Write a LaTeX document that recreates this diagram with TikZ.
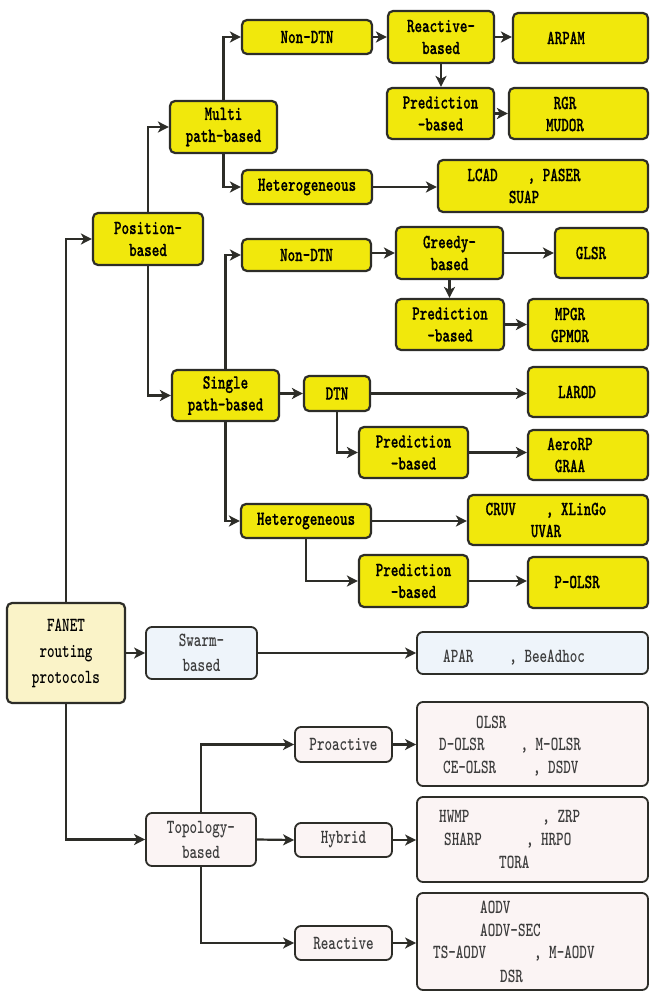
\documentclass[tikz,border=0pt]{standalone}
\usepackage{fontspec}
\newfontfamily\bfont{lmmonolt10-bold.otf}[FakeStretch=0.72,FakeBold=0.6]
\newfontfamily\rfont{lmmonolt10-bold.otf}[FakeStretch=0.72]
\usetikzlibrary{arrows.meta}
\definecolor{ylw}{RGB}{241,232,12}
\definecolor{cream}{RGB}{250,243,200}
\definecolor{ltblue}{RGB}{238,244,250}
\definecolor{ltpink}{RGB}{251,244,244}
\definecolor{edge}{RGB}{45,45,40}
\definecolor{gtext}{RGB}{60,60,60}
\newcommand\bx[7]{\node[#6, minimum width={#4-#2}, minimum height={#5-#3}] (#1) at ({(#2+#4)/2},{(#3+#5)/2}) {#7};}
\tikzset{
 ybox/.style={draw=edge, line width=2.2pt, fill=ylw, rounded corners=5pt, inner sep=0pt, align=center, font=\bfont\fontsize{20}{22}\selectfont},
 cbox/.style={ybox, fill=cream, font=\rfont\fontsize{20}{26}\selectfont},
 bbox/.style={draw=edge, line width=1.8pt, fill=ltblue, rounded corners=6pt, inner sep=0pt, align=center, font=\rfont\fontsize{20}{25}\selectfont, text=gtext},
 pbox/.style={bbox, fill=ltpink},
 ytxt/.style={inner sep=0pt, align=center, font=\bfont\fontsize{20}{22}\selectfont},
 ltxt/.style={inner sep=0pt, anchor=west, text height=12pt, text depth=0pt, font=\rfont\fontsize{20}{22}\selectfont, text=gtext},
 arr/.style={draw=edge, line width=2.2pt, -{Stealth[length=11pt,width=11pt,inset=3pt]}},
}
\begin{document}
\begin{tikzpicture}[x=1pt,y=-1pt]
\useasboundingbox (0,0) rectangle (651,992);
\fill[white] (0,0) rectangle (651,992);
% yellow boxes
\bx{nd1}{242}{20}{372}{54}{ybox}{Non-DTN}
\bx{multi}{170}{101}{277}{153}{ybox}{Multi\\path-based}
\bx{het1}{242}{170}{372}{204}{ybox}{Heterogeneous}
\bx{pos}{93}{213}{203}{265}{ybox}{Position-\\based}
\bx{react}{388}{11}{494}{63}{ybox}{Reactive-\\based}
\bx{arpam}{513}{13}{648}{63}{ybox}{}
\bx{pred1}{387}{88}{494}{139}{ybox}{Prediction\\-based}
\bx{rgr}{509}{88}{648}{139}{ybox}{}
\bx{lcad}{438}{160}{648}{212}{ybox}{}
\bx{nd2}{242}{239}{371}{271}{ybox}{Non-DTN}
\bx{greedy}{396}{227}{503}{279}{ybox}{Greedy-\\based}
\bx{glsr}{555}{228}{648}{278}{ybox}{}
\bx{pred2}{396}{299}{504}{350}{ybox}{Prediction\\-based}
\bx{mpgr}{528}{299}{648}{350}{ybox}{}
\bx{single}{172}{370}{279}{421}{ybox}{Single\\path-based}
\bx{dtn}{304}{376}{370}{411}{ybox}{DTN}
\bx{larod}{528}{367}{648}{417}{ybox}{}
\bx{pred3}{359}{427}{468}{478}{ybox}{Prediction\\-based}
\bx{aero}{528}{430}{648}{480}{ybox}{}
\bx{het2}{241}{504}{371}{538}{ybox}{Heterogeneous}
\bx{cruv}{468}{495}{648}{545}{ybox}{}
\bx{pred4}{359}{555}{468}{607}{ybox}{Prediction\\-based}
\bx{polsr}{528}{557}{648}{608}{ybox}{}
% texts of right yellow boxes
\node[ytxt] (arpamT) at (566,38) {ARPAM};
\node[ytxt] (rgrT) at (565,114) {RGR\\MUDOR};
\node[ytxt] (lcadT) at (524,186) {LCAD\hspace{30pt}, PASER\\SUAP};
\node[ytxt] (glsrT) at (591,253) {GLSR};
\node[ytxt] (mpgrT) at (570,325) {MPGR\\GPMOR};
\node[ytxt] (larodT) at (577,392) {LAROD};
\node[ytxt] (aeroT) at (570,455) {AeroRP\\GRAA};
\node[ytxt] (cruvT) at (546,520) {CRUV\hspace{30pt}, XLinGo\\UVAR};
\node[ytxt] (polsrT) at (577,582) {P-OLSR};
% other boxes
\bx{fanet}{7}{603}{125}{703}{cbox}{FANET\\routing\\protocols}
\bx{swarm}{146}{627}{257}{679}{bbox}{Swarm-\\based}
\bx{apar}{417}{632}{648}{674}{bbox}{}
\bx{topo}{146}{813}{256}{866}{pbox}{Topology-\\based}
\bx{proac}{295}{727}{392}{762}{pbox}{Proactive}
\bx{hybrid}{295}{823}{392}{857}{pbox}{Hybrid}
\bx{reac}{295}{926}{392}{960}{pbox}{Reactive}
\bx{olsr}{417}{702}{648}{786}{pbox}{}
\bx{hwmp}{417}{797}{648}{882}{pbox}{}
\bx{aodv}{417}{893}{648}{990}{pbox}{}
% texts of bottom boxes
\node[ltxt] (aparT) at (443,656) {APAR\hspace{36pt}, BeeAdhoc};
\node[ltxt] (olsrT1) at (476,722) {OLSR};
\node[ltxt] (olsrT2) at (439,744) {D-OLSR\hspace{36pt}, M-OLSR};
\node[ltxt] (olsrT3) at (443,767) {CE-OLSR\hspace{37pt}, DSDV};
\node[ltxt] (hwmpT1) at (439,816) {HWMP\hspace{73pt}, ZRP};
\node[ltxt] (hwmpT2) at (444,839) {SHARP\hspace{44pt}, HRPO};
\node[ltxt] (hwmpT3) at (499,862) {TORA};
\node[ltxt] (aodvT1) at (480,907) {AODV};
\node[ltxt] (aodvT2) at (480,930) {AODV-SEC};
\node[ltxt] (aodvT3) at (433,952) {TS-AODV\hspace{48pt}, M-AODV};
\node[ltxt] (aodvT4) at (500,976) {DSR};
% connectors
\draw[arr] (fanet.north) |- (pos.west);
\draw[arr] (fanet.east) -- (swarm.west);
\draw[arr] (fanet.south) |- (topo.west);
\draw[arr] (pos.north) |- (multi.west);
\draw[arr] (pos.south) |- (single.west);
\draw[arr] (multi.north) |- (nd1.west);
\draw[arr] (multi.south) |- (het1.west);
\draw[arr] (nd1.east) -- (react.west);
\draw[arr] (react.east) -- (react.east -| arpam.west);
\draw[arr] (react.south) -- (react.south |- pred1.north);
\draw[arr] (pred1.east) -- (pred1.east -| rgr.west);
\draw[arr] (het1.east) -- (het1.east -| lcad.west);
\draw[arr] (single.north) |- (nd2.west);
\draw[arr] (single.south) |- (het2.west);
\draw[arr] (dtn.west -| single.east) -- (dtn.west);
\draw[arr] (greedy.west -| nd2.east) -- (greedy.west);
\draw[arr] (greedy.east) -- (greedy.east -| glsr.west);
\draw[arr] (greedy.south) -- (greedy.south |- pred2.north);
\draw[arr] (pred2.east) -- (pred2.east -| mpgr.west);
\draw[arr] (dtn.east) -- (dtn.east -| larod.west);
\draw[arr] (dtn.south) |- (pred3.west);
\draw[arr] (pred3.east) -- (pred3.east -| aero.west);
\draw[arr] (het2.east) -- (het2.east -| cruv.west);
\draw[arr] (het2.south) |- (pred4.west);
\draw[arr] (pred4.east) -- (pred4.east -| polsr.west);
\draw[arr] (swarm.east) -- (swarm.east -| apar.west);
\draw[arr] (topo.north) |- (proac.west);
\draw[arr] (topo.east) -- (hybrid.west);
\draw[arr] (topo.south) |- (reac.west);
\draw[arr] (proac.east) -- (proac.east -| olsr.west);
\draw[arr] (hybrid.east) -- (hybrid.east -| hwmp.west);
\draw[arr] (reac.east) -- (reac.east -| aodv.west);
\end{tikzpicture}
\end{document}
